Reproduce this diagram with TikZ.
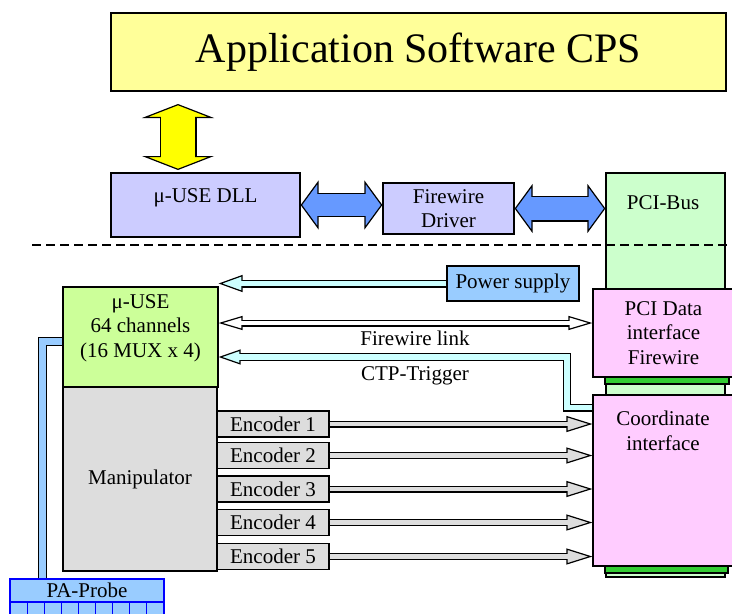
\documentclass[tikz,border=0pt]{standalone}
\usepackage{fontspec}
\setmainfont{Liberation Serif}
\usetikzlibrary{arrows.meta}

\definecolor{appyellow}{HTML}{FFFF99}
\definecolor{arrowyellow}{HTML}{FFFF00}
\definecolor{swlilac}{HTML}{CCCCFF}
\definecolor{linkblue}{HTML}{6699FF}
\definecolor{busgreen}{HTML}{CCFFCC}
\definecolor{slotgreen}{HTML}{33CC33}
\definecolor{psblue}{HTML}{99CCFF}
\definecolor{sigcyan}{HTML}{CCFFFF}
\definecolor{usegreen}{HTML}{CCFF99}
\definecolor{cardpink}{HTML}{FFCCFF}
\definecolor{mechgray}{HTML}{DDDDDD}

\begin{document}
\begin{tikzpicture}[
  x=1pt, y=-1pt,
  txt/.style={font=\fontsize{21}{24.5}\selectfont, align=center, inner sep=0pt},
  box/.style={draw, line width=1.2pt, inner sep=0pt, txt},
  divider/.style={line width=1.4pt, dash pattern=on 9pt off 5pt},
  % outlined block arrows: fill, shaft width, head width, head length
  hollow/.style n args={4}{draw=black, line width=#2, line join=miter,
    -{Triangle[length=#4, width=#3, line width=1.2pt, fill=#1]},
    postaction={draw=#1, line width=#2-2.4pt, arrows=-, shorten >=#4-2pt}},
  hollowboth/.style n args={4}{draw=black, line width=#2, line join=miter,
    {Triangle[length=#4, width=#3, line width=1.2pt, fill=#1]}-{Triangle[length=#4, width=#3, line width=1.2pt, fill=#1]},
    postaction={draw=#1, line width=#2-2.4pt, arrows=-, shorten >=#4-2pt, shorten <=#4-2pt}},
  pipe/.style 2 args={draw=black, line width=#2, line join=miter,
    postaction={draw=#1, line width=#2-2.4pt}}
]
\useasboundingbox (0,0) rectangle (732,614);

% ---- software side ----
\node[box, fill=appyellow, minimum width=615pt, minimum height=78pt,
      font=\fontsize{42}{48}\selectfont] (app) at (418.5,52) {Application Software CPS};
\node[box, fill=swlilac, minimum width=189pt, minimum height=64pt] (dll) at (205.5,205) {};
\node[txt] (dlltxt) at (205.5,198) {μ-USE DLL};
\node[box, fill=swlilac, minimum width=131pt, minimum height=51pt] (drv) at (448.5,208.5) {Firewire\\Driver};

% ---- PCI bus column with its cards ----
\node[box, fill=busgreen, minimum width=119pt, minimum height=404pt] (bus) at (665.5,375) {};
\node[txt] (bustxt) at (663,203) {PCI-Bus};

\draw[divider] (32,245) -- (740,245);

\node[box, fill=cardpink, minimum width=141pt, minimum height=88pt] (pci) at (663.5,333) {PCI Data\\interface\\Firewire};
\node[box, fill=cardpink, minimum width=141pt, minimum height=171pt] (coord) at (663.5,480.5) {};
\node[txt] (coordtxt) at (663,431) {Coordinate\\interface};
\node[box, fill=slotgreen, minimum width=124pt, minimum height=7pt] (slota) at (667,380.5) {};
\node[box, fill=slotgreen, minimum width=123pt, minimum height=7pt] (slotb) at (666.5,569.5) {};

% ---- hardware side ----
\node[box, fill=psblue, minimum width=132pt, minimum height=35pt] (pwr) at (513,283.5) {Power supply};
\node[box, fill=usegreen, minimum width=155pt, minimum height=100pt] (use) at (140.5,337) {};
\node[txt] (usetxt) at (140.5,328) {μ-USE\\64 channels\\(16 MUX x 4)};
\node[box, fill=mechgray, minimum width=154pt, minimum height=184pt] (manip) at (140,479) {Manipulator};
\node[box, draw=blue, fill=psblue, minimum width=154pt, minimum height=23pt] (probe) at (87,590.5) {PA-Probe};
\foreach \i in {0,...,8}
  \draw[draw=blue, line width=1.2pt, fill=psblue] (10+\i*17.11,602) rectangle ++(17.11,16);

% ---- links ----
\coordinate (ybot) at (178,170);
\coordinate (ytop) at (178,104);
\draw[hollowboth={arrowyellow}{37pt}{72pt}{14pt}] (ybot) -- (ytop);
\draw[hollowboth={linkblue}{24pt}{49pt}{18pt}] (dll.east) -- (dll.east -| drv.west);
\draw[hollowboth={linkblue}{26pt}{49pt}{18pt}] (drv.east) -- (drv.east -| bus.west);

\draw[hollow={sigcyan}{8pt}{17pt}{24pt}] (pwr.west) -- (pwr.west -| use.east);

\coordinate (fwl) at (400,323);
\draw[hollowboth={white}{7pt}{14pt}{24pt}] (use.east |- fwl) -- (pci.west |- fwl);
\node[txt] (fwltxt) at (415,338) {Firewire link};

\coordinate (ctpbend) at (567,407.5);
\coordinate (ctp) at (400,357);
\draw[hollow={sigcyan}{8pt}{15pt}{22pt}] (coord.west |- ctpbend) -- (ctpbend) |- (use.east |- ctp);
\node[txt] (ctptxt) at (415,376) {CTP-Trigger};

\coordinate (cable) at (42.5,341.5);
\draw[pipe={psblue}{9pt}] (probe.north -| cable) |- (use.west |- cable);

% ---- encoders ----
\foreach \n/\y in {1/424,2/455.5,3/489,4/522.5,5/556.5}{
  \node[box, fill=mechgray, minimum width=112pt, minimum height=26pt] (enc\n) at (273,\y) {Encoder \n};
  \draw[hollow={mechgray}{7pt}{16pt}{26pt}] (enc\n.east) -- (enc\n.east -| coord.west);
}
\end{tikzpicture}
\end{document}
